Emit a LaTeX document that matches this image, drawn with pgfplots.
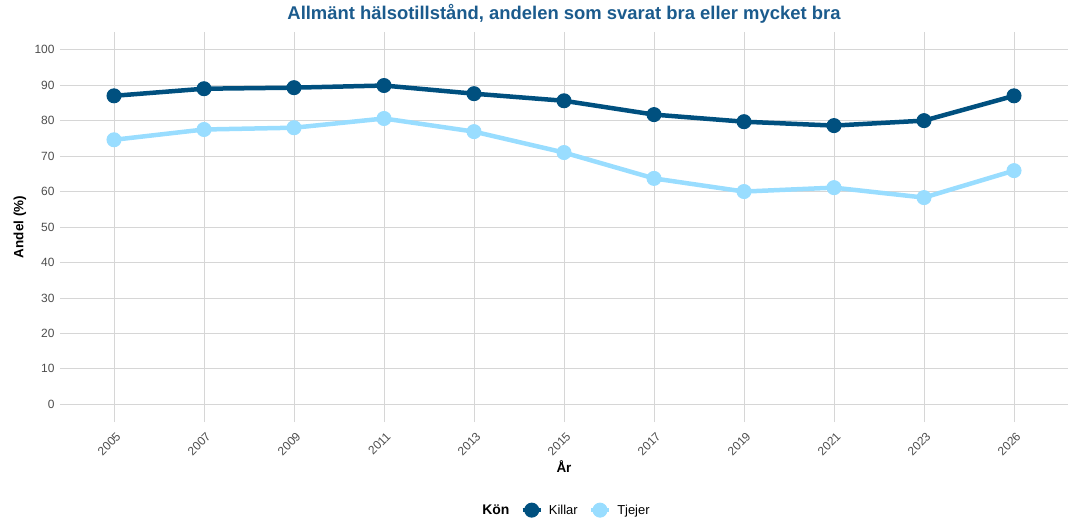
\documentclass[border=0pt]{standalone}
\usepackage{pgfplots}
\pgfplotsset{compat=1.18}
\usepackage{fontspec}
\setmainfont{Liberation Sans}
\definecolor{killar}{HTML}{00507F}
\definecolor{tjejer}{HTML}{99DDFF}
\definecolor{titlec}{HTML}{1B5B8D}
\definecolor{gridc}{HTML}{D6D6D6}
\definecolor{tickc}{HTML}{4D4D4D}
\begin{document}
\begin{tikzpicture}
\useasboundingbox (-60bp,-97bp) rectangle (1012bp,422bp);
\begin{axis}[
  at={(0bp,0bp)}, anchor=south west,
  width=1008bp, height=390bp, scale only axis,
  xmin=-0.6, xmax=10.6, ymin=-5, ymax=105,
  xtick={0,1,2,3,4,5,6,7,8,9,10},
  xticklabels={2005,2007,2009,2011,2013,2015,2017,2019,2021,2023,2026},
  ytick={0,10,...,100},
  grid=major,
  major grid style={gridc, line width=0.8bp},
  axis line style={draw=none},
  major tick length=0pt,
  /pgf/number format/assume math mode=true,
  x tick label style={font=\fontsize{12}{14}\selectfont, text=tickc, xshift=7bp, yshift=-10bp, rotate=45, anchor=east},
  y tick label style={font=\fontsize{12}{14}\selectfont, text=tickc, xshift=-2bp},
  xlabel={År},
  ylabel={Andel (\%)},
  xlabel style={at={(axis description cs:0.5,-0.113)}, anchor=center, font=\bfseries\fontsize{13.5}{15}\selectfont},
  ylabel style={at={(axis description cs:-0.0397,0.5)}, anchor=center, rotate=0, font=\bfseries\fontsize{13.5}{15}\selectfont},
  title={Allmänt hälsotillstånd, andelen som svarat bra eller mycket bra},
  title style={at={(axis description cs:0.5,1.031)}, anchor=center, text=titlec, font=\bfseries\fontsize{18.5}{21}\selectfont},
  legend columns=-1,
  legend style={at={(axis description cs:0.5,-0.226)}, anchor=center, draw=none, fill=none,
    font=\fontsize{13}{15}\selectfont,
    /tikz/every odd column/.append style={column sep=4bp},
    /tikz/every even column/.append style={column sep=9bp}},
  legend image code/.code={\draw[mark repeat=2,mark phase=2,#1] plot coordinates {(0bp,0bp) (9bp,0bp) (18bp,0bp)};},
]
\addlegendimage{empty legend}
\addlegendentry{\bfseries\fontsize{14}{16}\selectfont Kön}
\addplot[killar, line width=4.5bp, mark=*, mark size=7bp, mark options={line width=1bp}] coordinates {
(0,87.0) (1,89.0) (2,89.3) (3,89.9) (4,87.6) (5,85.6) (6,81.7) (7,79.7) (8,78.6) (9,80.0) (10,87.0)};
\addlegendentry{Killar}
\addplot[tjejer, line width=4.5bp, mark=*, mark size=7bp, mark options={line width=1bp}] coordinates {
(0,74.6) (1,77.5) (2,78.0) (3,80.6) (4,76.9) (5,71.0) (6,63.7) (7,60.0) (8,61.1) (9,58.3) (10,65.9)};
\addlegendentry{Tjejer}
\end{axis}
\end{tikzpicture}
\end{document}
